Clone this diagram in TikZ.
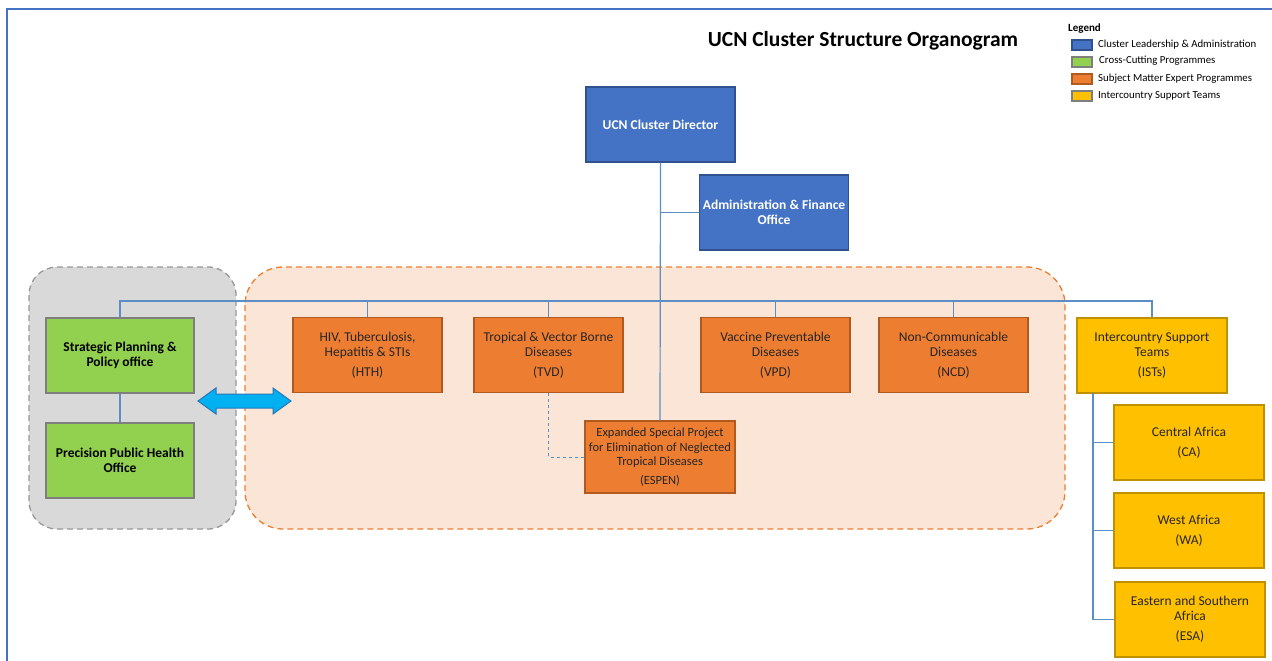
\documentclass[tikz,border=0pt]{standalone}
\usepackage{fontspec}
\setmainfont{Carlito}
\definecolor{lblue}{HTML}{4472C4}
\definecolor{dblue}{HTML}{2F528F}
\definecolor{lgreen}{HTML}{92D050}
\definecolor{gborder}{HTML}{7F7F7F}
\definecolor{orng}{HTML}{ED7D31}
\definecolor{dorng}{HTML}{AE5A21}
\definecolor{yel}{HTML}{FFC000}
\definecolor{dyel}{HTML}{BF9000}
\definecolor{peach}{HTML}{FBE5D6}
\definecolor{grayfill}{HTML}{D9D9D9}
\definecolor{linec}{HTML}{5B8EC4}
\definecolor{arrowc}{HTML}{00B0F0}
\definecolor{arrowb}{HTML}{2E75B6}
\begin{document}
\begin{tikzpicture}[x=1pt,y=-1pt,
  orgbox/.style={draw, line width=1.2pt, minimum width=149pt, minimum height=75pt, align=center, inner sep=2pt,
    font=\fontsize{13.5}{15}\selectfont},
  bluebox/.style={orgbox, fill=lblue, draw=dblue, text=white, font=\fontsize{13.5}{15}\selectfont\bfseries},
  greenbox/.style={orgbox, fill=lgreen, draw=gborder, font=\fontsize{13.5}{15}\selectfont\bfseries},
  orangebox/.style={orgbox, fill=orng, draw=dorng, text=black!85},
  yellowbox/.style={orgbox, fill=yel, draw=dyel, text=black!85},
  conn/.style={draw=linec, line width=1.2pt},
  swatch/.style={draw, line width=1.2pt, minimum width=20pt, minimum height=10pt, inner sep=0pt},
  legtext/.style={anchor=west, font=\fontsize{10.8}{12}\selectfont, inner sep=0pt}
]
\useasboundingbox (0,0) rectangle (1272,661);
% page border
\draw[lblue, line width=2pt] (7,661) -- (7,9) -- (1272,9);

% group backgrounds
\draw[gborder!80, line width=1.3pt, fill=grayfill, rounded corners=28pt, dash pattern=on 6pt off 4pt] (29,267) rectangle (236,529);
\draw[orng, line width=1.3pt, fill=peach, rounded corners=38pt, dash pattern=on 6pt off 4pt] (245,267) rectangle (1065,529);

% title
\node[font=\fontsize{21.5}{24}\selectfont\bfseries] (title) at (863,41) {UCN Cluster Structure Organogram};

% legend
\node[anchor=west, font=\fontsize{11}{12}\selectfont\bfseries, inner sep=0pt] (legend) at (1068,29) {Legend};
\node[swatch, fill=lblue, draw=dblue] (sw1) at (1082,45) {};
\node[swatch, fill=lgreen, draw=gborder] (sw2) at (1082,62) {};
\node[swatch, fill=orng, draw=dorng] (sw3) at (1082,79) {};
\node[swatch, fill=yel, draw=gborder] (sw4) at (1082,96) {};
\node[legtext] (lt1) at (1098,45) {Cluster Leadership \& Administration};
\node[legtext] (lt2) at (1099,61) {Cross-Cutting Programmes};
\node[legtext] (lt3) at (1098,79) {Subject Matter Expert Programmes};
\node[legtext] (lt4) at (1098,96) {Intercountry Support Teams};

% nodes
\node[bluebox] (dir) at (660.5,124.5) {UCN Cluster Director};
\node[bluebox] (adm) at (774,212.5) {Administration \& Finance\\Office};

\node[greenbox, minimum width=148pt] (sp) at (120,355.5) {Strategic Planning \&\\Policy office};
\node[greenbox, minimum width=148pt] (pph) at (120,460.5) {Precision Public Health\\Office};

\node[orangebox] (hth) at (367.5,355) {HIV, Tuberculosis,\\Hepatitis \& STIs\\[5pt](HTH)};
\node[orangebox] (tvd) at (548.5,355) {Tropical \& Vector Borne\\Diseases\\[5pt](TVD)};
\node[orangebox] (vpd) at (775.5,355) {Vaccine Preventable\\Diseases\\[5pt](VPD)};
\node[orangebox] (ncd) at (953.5,355) {Non-Communicable\\Diseases\\[5pt](NCD)};
\node[orangebox, minimum width=150pt, minimum height=72pt, font=\fontsize{12.5}{14.5}\selectfont] (espen) at (660,457) {Expanded Special Project\\for Elimination of Neglected\\Tropical Diseases\\[4pt](ESPEN)};

\node[yellowbox, minimum width=150pt] (ists) at (1152,355.5) {Intercountry Support\\Teams\\[5pt](ISTs)};
\node[yellowbox, minimum width=150pt] (ca) at (1189,442.5) {Central Africa\\[5pt](CA)};
\node[yellowbox, minimum width=150pt] (wa) at (1189,530.5) {West Africa\\[5pt](WA)};
\node[yellowbox, minimum width=150pt] (esa) at (1190,619.5) {Eastern and Southern\\Africa\\[5pt](ESA)};

% connectors
\coordinate (bus) at (660,301);
\coordinate (istbus) at (1093,393);
\draw[conn] (dir.south) -- (espen.north);
\draw[conn] (dir.south |- adm.west) -- (adm.west);
\draw[conn] (sp.north) -- (sp.north |- bus) -- (ists.north |- bus) -- (ists.north);
\foreach \n in {hth,tvd,vpd,ncd} \draw[conn] (\n.north) -- (\n.north |- bus);
\draw[conn] (sp.south) -- (pph.north);
\draw[conn] (istbus) -- (istbus |- esa.west) -- (esa.west);
\draw[conn] (istbus |- ca.west) -- (ca.west);
\draw[conn] (istbus |- wa.west) -- (wa.west);
\draw[conn, dashed, line width=0.9pt] (tvd.south) |- (espen.west);

% double arrow
\draw[arrowb, fill=arrowc, line width=1pt] (198,401) -- (216,388) -- (216,394) -- (273,394) -- (273,388) -- (291,401) -- (273,414) -- (273,408) -- (216,408) -- (216,414) -- cycle;
\end{tikzpicture}
\end{document}
